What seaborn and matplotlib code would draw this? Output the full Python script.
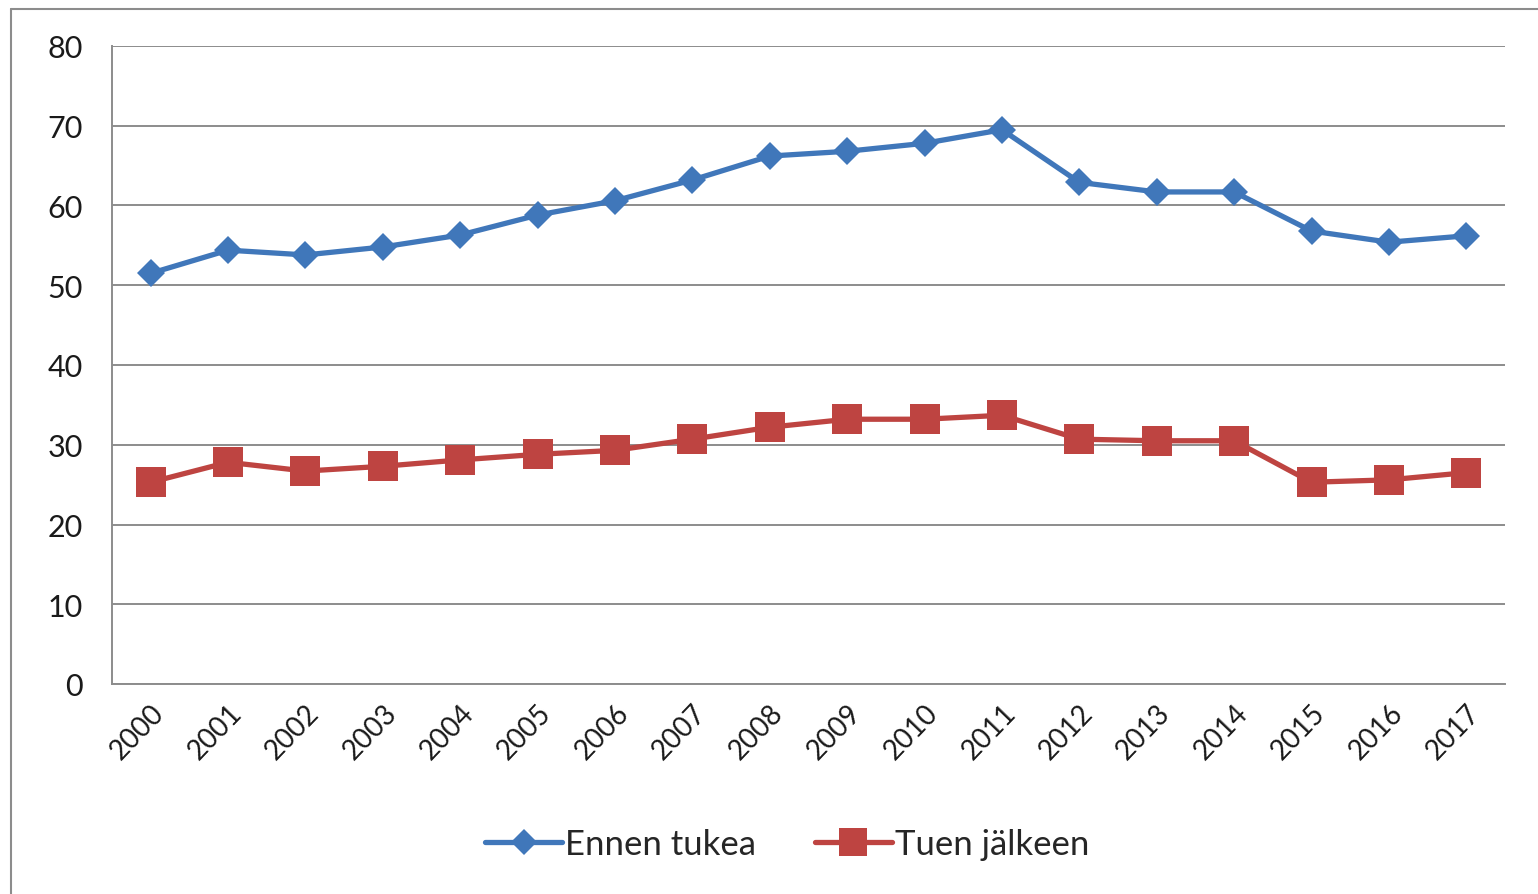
import numpy as np
import pandas as pd
import seaborn as sns
import matplotlib.pyplot as plt
from matplotlib.lines import Line2D

sns.set_style("white")
plt.rcParams['font.family'] = ['Lato', 'DejaVu Sans']

years = [str(y) for y in range(2000, 2018)]
ennen_tukea = [51.5, 54.4, 53.8, 54.8, 56.3, 58.8, 60.6, 63.2, 66.2,
               66.8, 67.8, 69.5, 62.9, 61.7, 61.7, 56.8, 55.4, 56.2]
tuen_jalkeen = [25.3, 27.8, 26.7, 27.3, 28.1, 28.8, 29.3, 30.7, 32.2,
                33.2, 33.2, 33.7, 30.7, 30.5, 30.5, 25.3, 25.6, 26.5]
series_names = ['Ennen tukea', 'Tuen jälkeen']

blue = '#4077BA'
red = '#BE4441'

df = pd.DataFrame({
    'pos': list(range(len(years))) * 2,
    'value': ennen_tukea + tuen_jalkeen,
    'series': [series_names[0]] * len(years) + [series_names[1]] * len(years),
})

W, H = 1538, 895
fig = plt.figure(figsize=(W / 100, H / 100), dpi=100)
ax = fig.add_axes([112 / W, 1 - 685 / H, (1505 - 112) / W, (685 - 47) / H])

sub = df[df['series'] == series_names[0]]
sns.lineplot(data=sub, x='pos', y='value', ax=ax, color=blue, lw=3.8,
             marker='D', markersize=14, markeredgewidth=0, legend=False)
sub = df[df['series'] == series_names[1]]
sns.lineplot(data=sub, x='pos', y='value', ax=ax, color=red, lw=3.8,
             marker='s', markersize=21, markeredgewidth=0, legend=False)

ax.set_xlim(-0.5, len(years) - 0.5)
ax.set_ylim(0, 80)
ax.set_yticks(range(0, 81, 10))
ax.yaxis.grid(True, color='#8c8c8c', lw=1.4)
ax.set_axisbelow(True)
ax.set_xlabel('')
ax.set_ylabel('')

ax.set_xticks(range(len(years)))
ax.set_xticklabels(years, rotation=46, ha='right', rotation_mode='anchor',
                   fontsize=20, color='#1a1a1a')
ax.set_xticks(np.arange(-0.5, len(years), 1), minor=True)
ax.tick_params(axis='x', which='major', length=0, pad=11)
ax.tick_params(axis='x', which='minor', length=10, color='#8c8c8c', width=1.4)
ax.tick_params(axis='y', length=9, color='#8c8c8c', width=1.4, pad=12,
               labelsize=22, labelcolor='#1a1a1a')

for s in ['top', 'right']:
    ax.spines[s].set_visible(False)
for s in ['left', 'bottom']:
    ax.spines[s].set_color('#8c8c8c')
    ax.spines[s].set_linewidth(1.4)

handles = [
    Line2D([], [], color=blue, lw=3.8, marker='D', markersize=13, markeredgewidth=0),
    Line2D([], [], color=red, lw=3.8, marker='s', markersize=20, markeredgewidth=0),
]
fig.legend(handles, series_names, loc='center', bbox_to_anchor=(0.512, 1 - 845 / H),
           ncol=2, frameon=False, fontsize=25, handlelength=2.2,
           handletextpad=0.1, columnspacing=1.7)

# outer chart border
fig.add_artist(Line2D([11 / W, 11 / W], [0, 1 - 10 / H], color='#8c8c8c', lw=1.5))
fig.add_artist(Line2D([11 / W, 1], [1 - 10 / H, 1 - 10 / H], color='#8c8c8c', lw=1.5))

fig.savefig('out.png', dpi=100)
